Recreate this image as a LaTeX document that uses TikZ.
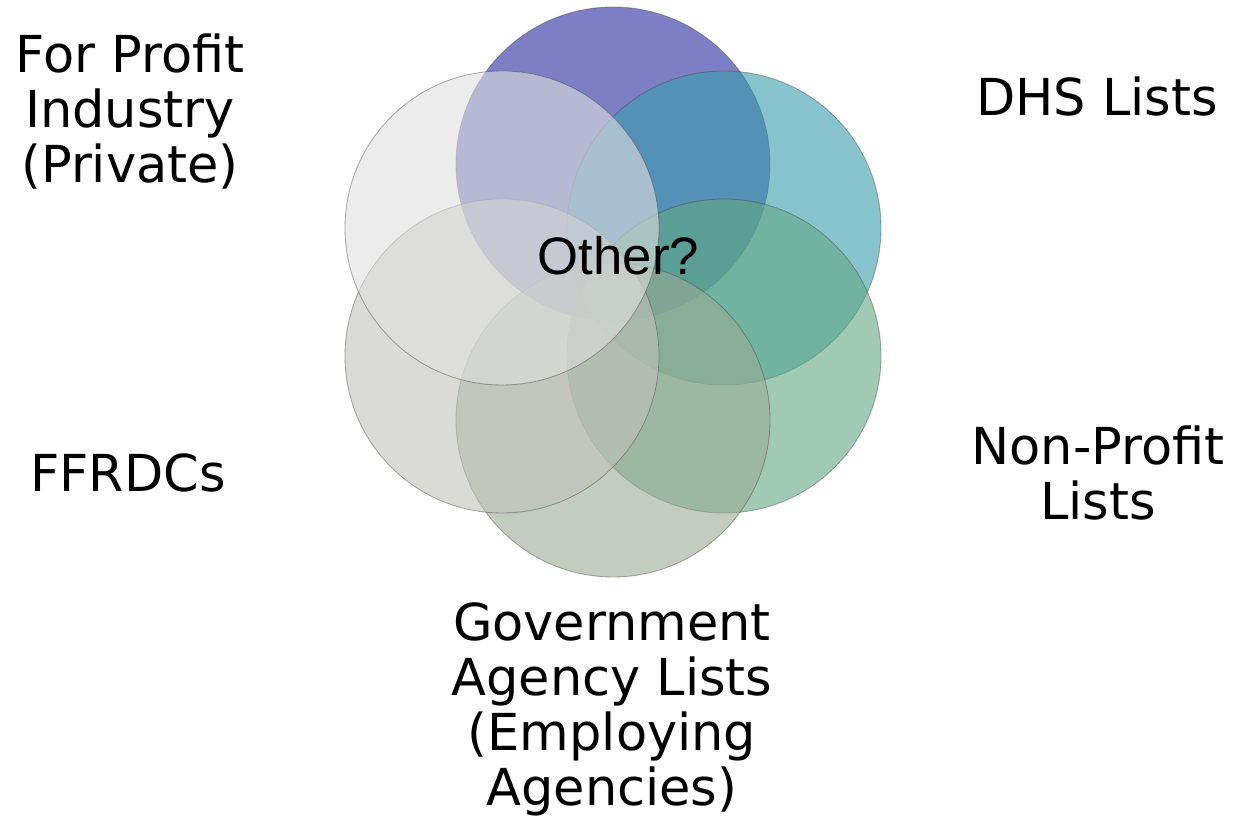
\documentclass[tikz,border=0pt]{standalone}
\usepackage{xcolor}
\usepackage{fontspec}
\setmainfont{DejaVu Sans}
\newfontfamily\otherfont{Liberation Sans}
\usepackage{tikz}
\usepackage{tikz-network}
\usetikzlibrary{positioning}

\begin{document}
\begin{tikzpicture}[
	list/.style={font=\fontsize{29}{31.3}\selectfont, align=center, inner sep=0pt},
	ring/.style={draw=black!70, draw opacity=0.45, line width=0.5pt}]
	\useasboundingbox (0,0) rectangle (24.7,16.48);
	\Vertex[x=12.26, y=13.20, size=6.28, RGB, color={37,42,157}, opacity=0.6, style={ring}]{dhs}
	\Vertex[x=14.48, y=11.92, size=6.28, RGB, color={57,157,173}, opacity=0.6, style={ring}]{other}
	\Vertex[x=14.48, y=9.36, size=6.28, RGB, color={97,167,130}, opacity=0.6, style={ring}]{nonprofit}
	\Vertex[x=12.26, y=8.08, size=6.28, RGB, color={155,172,147}, opacity=0.6, style={ring}]{gov}
	\Vertex[x=10.04, y=9.36, size=6.28, RGB, color={193,193,188}, opacity=0.6, style={ring}]{ffrdc}
	\Vertex[x=10.04, y=11.92, size=6.28, RGB, color={223,223,223}, opacity=0.6, style={ring}]{forprofit}
	\node[font=\otherfont\fontsize{30}{34}\selectfont, inner sep=0pt] (otherlbl) at (12.37,11.36) {Other?};
	\node[list] (forprofitlbl) at (2.60,14.24) {For Profit\\Industry\\(Private)};
	\node[list] (dhslbl) at (21.94,14.54) {DHS Lists};
	\node[list] (ffrdclbl) at (2.56,7.02) {FFRDCs};
	\node[list] (nonprofitlbl) at (21.96,7.02) {Non-Profit\\Lists};
	\node[list] (govlbl) at (12.24,2.30) {Government\\Agency Lists\\(Employing\\Agencies)};
\end{tikzpicture}
\end{document}
